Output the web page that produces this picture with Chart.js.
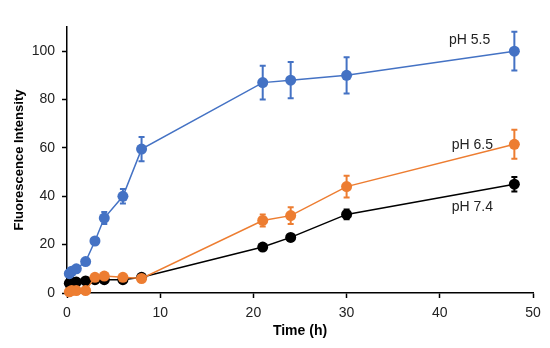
<!DOCTYPE html>
<html>
<head>
<meta charset="utf-8">
<script src="https://cdn.jsdelivr.net/npm/chart.js@4"></script>
<style>
  body { margin: 0; background: #fff; }
  #wrap { width: 550px; height: 348px; }
</style>
</head>
<body>
<div id="wrap"><canvas id="chart1"></canvas></div>
<script>
const times = [0.25, 0.5, 1, 2, 3, 4, 6, 8, 21, 24, 30, 48];
const ph55 = [8, 9, 10, 13, 21.5, 31, 40, 59.5, 87, 88, 90, 100];
const ph55Err = [1, 1, 1, 1, 1, 2.5, 3, 5, 7, 7.5, 7.5, 8];
const ph65 = [0.5, 1, 1, 1, 6.5, 7, 6.5, 6, 30, 32, 44, 61.5];
const ph65Err = [0.5, 0.5, 0.5, 0.5, 1, 1, 1, 1, 2.5, 3.5, 4.5, 6];
const ph74 = [4, 4.5, 4.5, 5, 5.5, 5.5, 5.5, 6.5, 19, 23, 32.5, 45];
const ph74Err = [0.5, 0.5, 0.5, 0.5, 0.5, 0.5, 0.5, 0.5, 1, 1, 2, 3];
const seriesLabels = ["pH 5.5", "pH 6.5", "pH 7.4"];
const labelPos = [[43.2, 104.5], [43.5, 61], [43.5, 35.5]];

const blue = '#4472C4';
const orange = '#ED7D31';
const black = '#000';
const font = '"Liberation Sans", Arial, sans-serif';

function pts(ys) {
    return times.map((t, i) => ({ x: t, y: ys[i] }));
}

function makeSet(label, ys, err, color) {
    return {
        label: label,
        data: pts(ys),
        err: err,
        borderColor: color,
        backgroundColor: color,
        borderWidth: 1.5,
        pointRadius: 5.5,
        pointHoverRadius: 5.5,
        pointBorderWidth: 0,
        clip: false
    };
}

const errorBars = {
    id: 'errorBars',
    beforeDatasetsDraw(chart) {
        const ctx = chart.ctx;
        const xs = chart.scales.x, ys = chart.scales.y;
        chart.data.datasets.forEach(ds => {
            ctx.save();
            ctx.strokeStyle = ds.borderColor;
            ctx.lineWidth = 2;
            ds.data.forEach((p, i) => {
                const e = ds.err[i];
                const px = xs.getPixelForValue(p.x);
                const top = ys.getPixelForValue(p.y + e);
                const bot = ys.getPixelForValue(p.y - e);
                ctx.beginPath();
                ctx.moveTo(px, top); ctx.lineTo(px, bot);
                ctx.moveTo(px - 3, top); ctx.lineTo(px + 3, top);
                ctx.moveTo(px - 3, bot); ctx.lineTo(px + 3, bot);
                ctx.stroke();
            });
            ctx.restore();
        });
    },
    afterDatasetsDraw(chart) {
        const ctx = chart.ctx;
        const xs = chart.scales.x, ys = chart.scales.y;
        ctx.save();
        ctx.fillStyle = '#222';
        ctx.font = '14px ' + font;
        ctx.textAlign = 'center';
        ctx.textBaseline = 'middle';
        seriesLabels.forEach((t, i) => {
            ctx.fillText(t, xs.getPixelForValue(labelPos[i][0]), ys.getPixelForValue(labelPos[i][1]));
        });
        ctx.restore();
    }
};

new Chart("chart1", {
    type: "line",
    data: {
        datasets: [
            makeSet(seriesLabels[0], ph55, ph55Err, blue),
            makeSet(seriesLabels[1], ph65, ph65Err, orange),
            makeSet(seriesLabels[2], ph74, ph74Err, black)
        ]
    },
    plugins: [errorBars],
    options: {
        responsive: true,
        maintainAspectRatio: false,
        animation: false,
        layout: { padding: { top: 27, right: 17, left: 8, bottom: 0 } },
        plugins: {
            legend: { display: false },
            tooltip: { enabled: false }
        },
        scales: {
            x: {
                type: 'linear',
                min: 0,
                max: 50,
                ticks: { stepSize: 10, color: '#222', font: { size: 14, family: font }, padding: 7 },
                grid: { drawOnChartArea: false, drawTicks: true, tickLength: 5, tickColor: '#000', tickWidth: 1.5 },
                border: { color: '#000', width: 1.5 },
                title: { display: true, text: 'Time (h)', color: '#000', font: { size: 14, weight: 'bold', family: font }, padding: { top: 0, bottom: 8 } },
                afterFit: s => { s.height = 55; }
            },
            y: {
                min: 0,
                max: 110,
                ticks: { stepSize: 20, color: '#222', font: { size: 14, family: font }, padding: 7 },
                afterBuildTicks: s => { s.ticks = s.ticks.filter(t => t.value <= 100); },
                grid: { drawOnChartArea: false, drawTicks: true, tickLength: 5, tickColor: '#000', tickWidth: 1.5 },
                border: { color: '#000', width: 1.5 },
                title: { display: true, text: 'Fluorescence Intensity', color: '#000', font: { size: 13, weight: 'bold', family: font }, padding: { bottom: 4 } },
                afterFit: s => { s.width = 59; }
            }
        }
    }
});
</script>
</body>
</html>
